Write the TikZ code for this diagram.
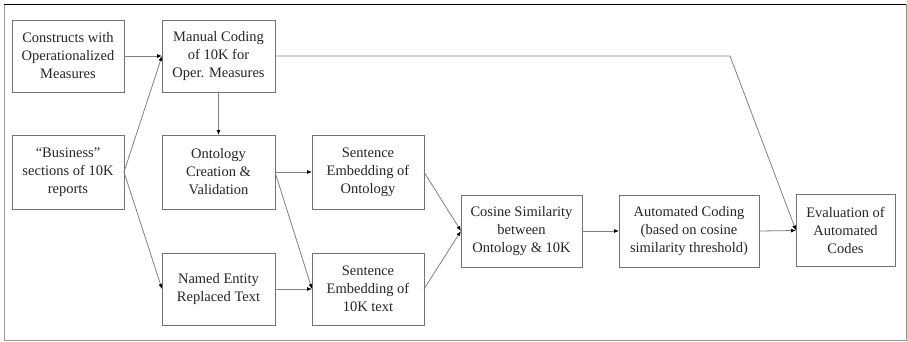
\documentclass[tikz,border=0pt]{standalone}
\usepackage{fontspec}
\setmainfont{Liberation Serif}
\usetikzlibrary{arrows.meta}

\tikzset{
    stepbox/.style={draw=black!55, line width=0.8pt, fill=white, align=center,
        inner sep=0pt, outer sep=0pt, minimum height=72pt, text=black!85,
        font=\fontsize{14.5}{18}\selectfont},
    flow/.style={draw=black!50, line width=0.8pt,
        -{Latex[length=5pt, width=4pt, color=black]}}
}

\begin{document}
\begin{tikzpicture}[x=1pt, y=-1pt]
    % Frame
    \useasboundingbox (0,0) rectangle (907,341);
    \draw[black!40, line width=0.8pt] (4,4.5) rectangle (906,340);
    \draw[black, line width=1.2pt] (4,4.5) -- (906,4.5);

    % Boxes
    \node[stepbox, minimum width=112pt] (construct) at (68,56) {Constructs with\\Operationalized\\Measures};
    \node[stepbox, minimum width=113pt] (manual) at (218.5,56) {Manual Coding\\of 10K for\\Oper. Measures};
    \node[stepbox, minimum width=112pt, minimum height=74pt] (business) at (68,172) {``Business''\\sections of 10K\\reports};
    \node[stepbox, minimum width=113pt, minimum height=74pt] (ontology) at (218.5,172) {Ontology\\Creation \&\\Validation};
    \node[stepbox, minimum width=112pt, minimum height=74pt] (embedont) at (368,172) {Sentence\\Embedding of\\Ontology};
    \node[stepbox, minimum width=113pt] (ner) at (218.5,289) {Named Entity\\Replaced Text};
    \node[stepbox, minimum width=112pt] (embedtext) at (368,289) {Sentence\\Embedding of\\10K text};
    \node[stepbox, minimum width=121pt] (cosine) at (521.5,231) {Cosine Similarity\\between\\Ontology \& 10K};
    \node[stepbox, minimum width=140pt] (autocode) at (689,231) {Automated Coding\\(based on cosine\\similarity threshold)};
    \node[stepbox, minimum width=99pt] (evaluation) at (845.5,230.5) {Evaluation of\\Automated\\Codes};

    % Connectors
    \draw[flow] (construct.east) -- (manual.west);
    \draw[flow] (business.east) -- (manual.west);
    \draw[flow] (business.east) -- (ner.west);
    \draw[flow] (manual.south) -- (ontology.north);
    \draw[flow] (ontology.east) -- (embedont.west);
    \draw[flow] (ontology.east) -- (embedtext.west);
    \draw[flow] (ner.east) -- (embedtext.west);
    \draw[flow] (embedont.east) -- (cosine.west);
    \draw[flow] (embedtext.east) -- (cosine.west);
    \draw[flow] (cosine.east) -- (autocode.west);
    \draw[flow] (autocode.east) -- (evaluation.west);

    % Long connector over the top
    \coordinate (bend) at (730,56);
    \draw[flow] (manual.east) -- (bend) -- (evaluation.west);
\end{tikzpicture}
\end{document}
